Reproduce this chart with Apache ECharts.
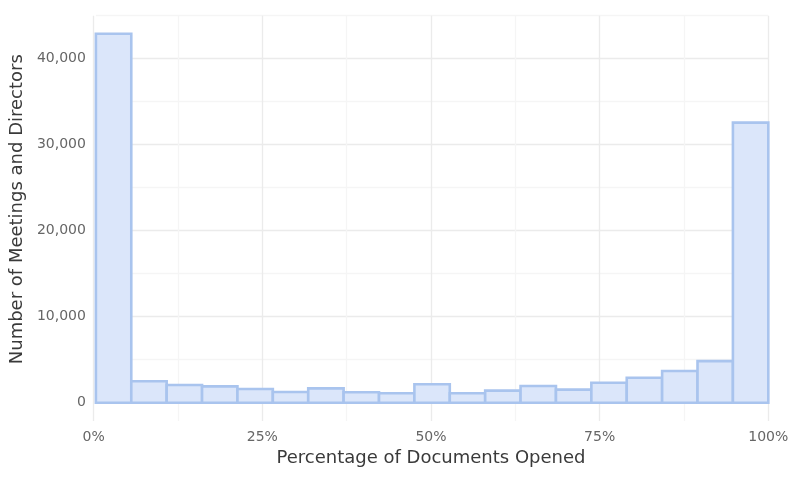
<!DOCTYPE html>
<html>
<head>
<meta charset="utf-8">
<script src="https://cdn.jsdelivr.net/npm/echarts@6/dist/echarts.min.js"></script>
<style>
  html, body { margin: 0; padding: 0; background: #ffffff; }
  #chart { width: 800px; height: 479px; }
</style>
</head>
<body>
<div id="chart"></div>
<script>
// Histogram bins: 19 equal bins across 0–100 %
const binCount = 19;
const binEdges = Array.from({ length: binCount + 1 }, (_, i) => i * 100 / binCount);
const counts = [42900, 2490, 2050, 1900, 1600, 1250, 1670, 1220, 1100, 2140, 1100, 1400, 1940, 1520, 2320, 2900, 3680, 4840, 32570];
const xTickValues = [0, 25, 50, 75, 100];
const yTickValues = [0, 10000, 20000, 30000, 40000];

const barData = counts.map((c, i) => [binEdges[i], binEdges[i + 1], c]);

const FONT = 'DejaVu Sans';
const chart = echarts.init(document.getElementById('chart'), null, { renderer: 'canvas' });

const option = {
  backgroundColor: '#ffffff',
  animation: false,
  textStyle: { fontFamily: FONT },
  grid: [
    { left: 93.7, right: 31.7, top: 15.7, bottom: 76.3, containLabel: false },
    { left: 93.7, right: 31.7, top: 15.7, bottom: 58, containLabel: false }
  ],
  xAxis: [
    {
      gridIndex: 0, type: 'value', min: 0, max: 100, show: false
    },
    {
      gridIndex: 1, type: 'value', min: 0, max: 100, interval: 12.5,
      axisLine: { show: false }, axisTick: { show: false },
      axisLabel: {
        color: '#666666', fontSize: 14, fontFamily: FONT, margin: 9,
        formatter: v => xTickValues.includes(v) ? v + '%' : ''
      },
      splitLine: { show: true, lineStyle: { color: ['#ebebeb', '#f5f5f5'], width: 1.3 } },
      name: 'Percentage of Documents Opened',
      nameLocation: 'middle', nameGap: 23,
      nameTextStyle: { color: '#3a3a3a', fontSize: 18, fontFamily: FONT }
    }
  ],
  yAxis: [
    {
      gridIndex: 0, type: 'value', min: 0, max: 45000, interval: 5000,
      axisLine: { show: false }, axisTick: { show: false },
      axisLabel: {
        color: '#666666', fontSize: 14, fontFamily: FONT, margin: 10,
        formatter: v => yTickValues.includes(v) ? v.toLocaleString('en-US') : ''
      },
      splitLine: { show: true, lineStyle: { color: ['#ebebeb', '#f5f5f5'], width: 1.3 } },
      name: 'Number of Meetings and Directors',
      nameLocation: 'middle', nameGap: 62,
      nameTextStyle: { color: '#3a3a3a', fontSize: 18, fontFamily: FONT }
    },
    {
      gridIndex: 1, type: 'value', min: 0, max: 1, show: false
    }
  ],
  series: [
    {
      type: 'custom',
      xAxisIndex: 0, yAxisIndex: 0,
      data: barData,
      z: 5,
      renderItem: function (params, api) {
        const p0 = api.coord([api.value(0), 0]);
        const p1 = api.coord([api.value(1), api.value(2)]);
        return {
          type: 'rect',
          shape: { x: p0[0], y: p1[1], width: p1[0] - p0[0], height: p0[1] - p1[1] },
          style: { fill: '#dbe6fa', stroke: '#a9c4ee', lineWidth: 2.6 }
        };
      }
    }
  ]
};
chart.setOption(option);
</script>
</body>
</html>
